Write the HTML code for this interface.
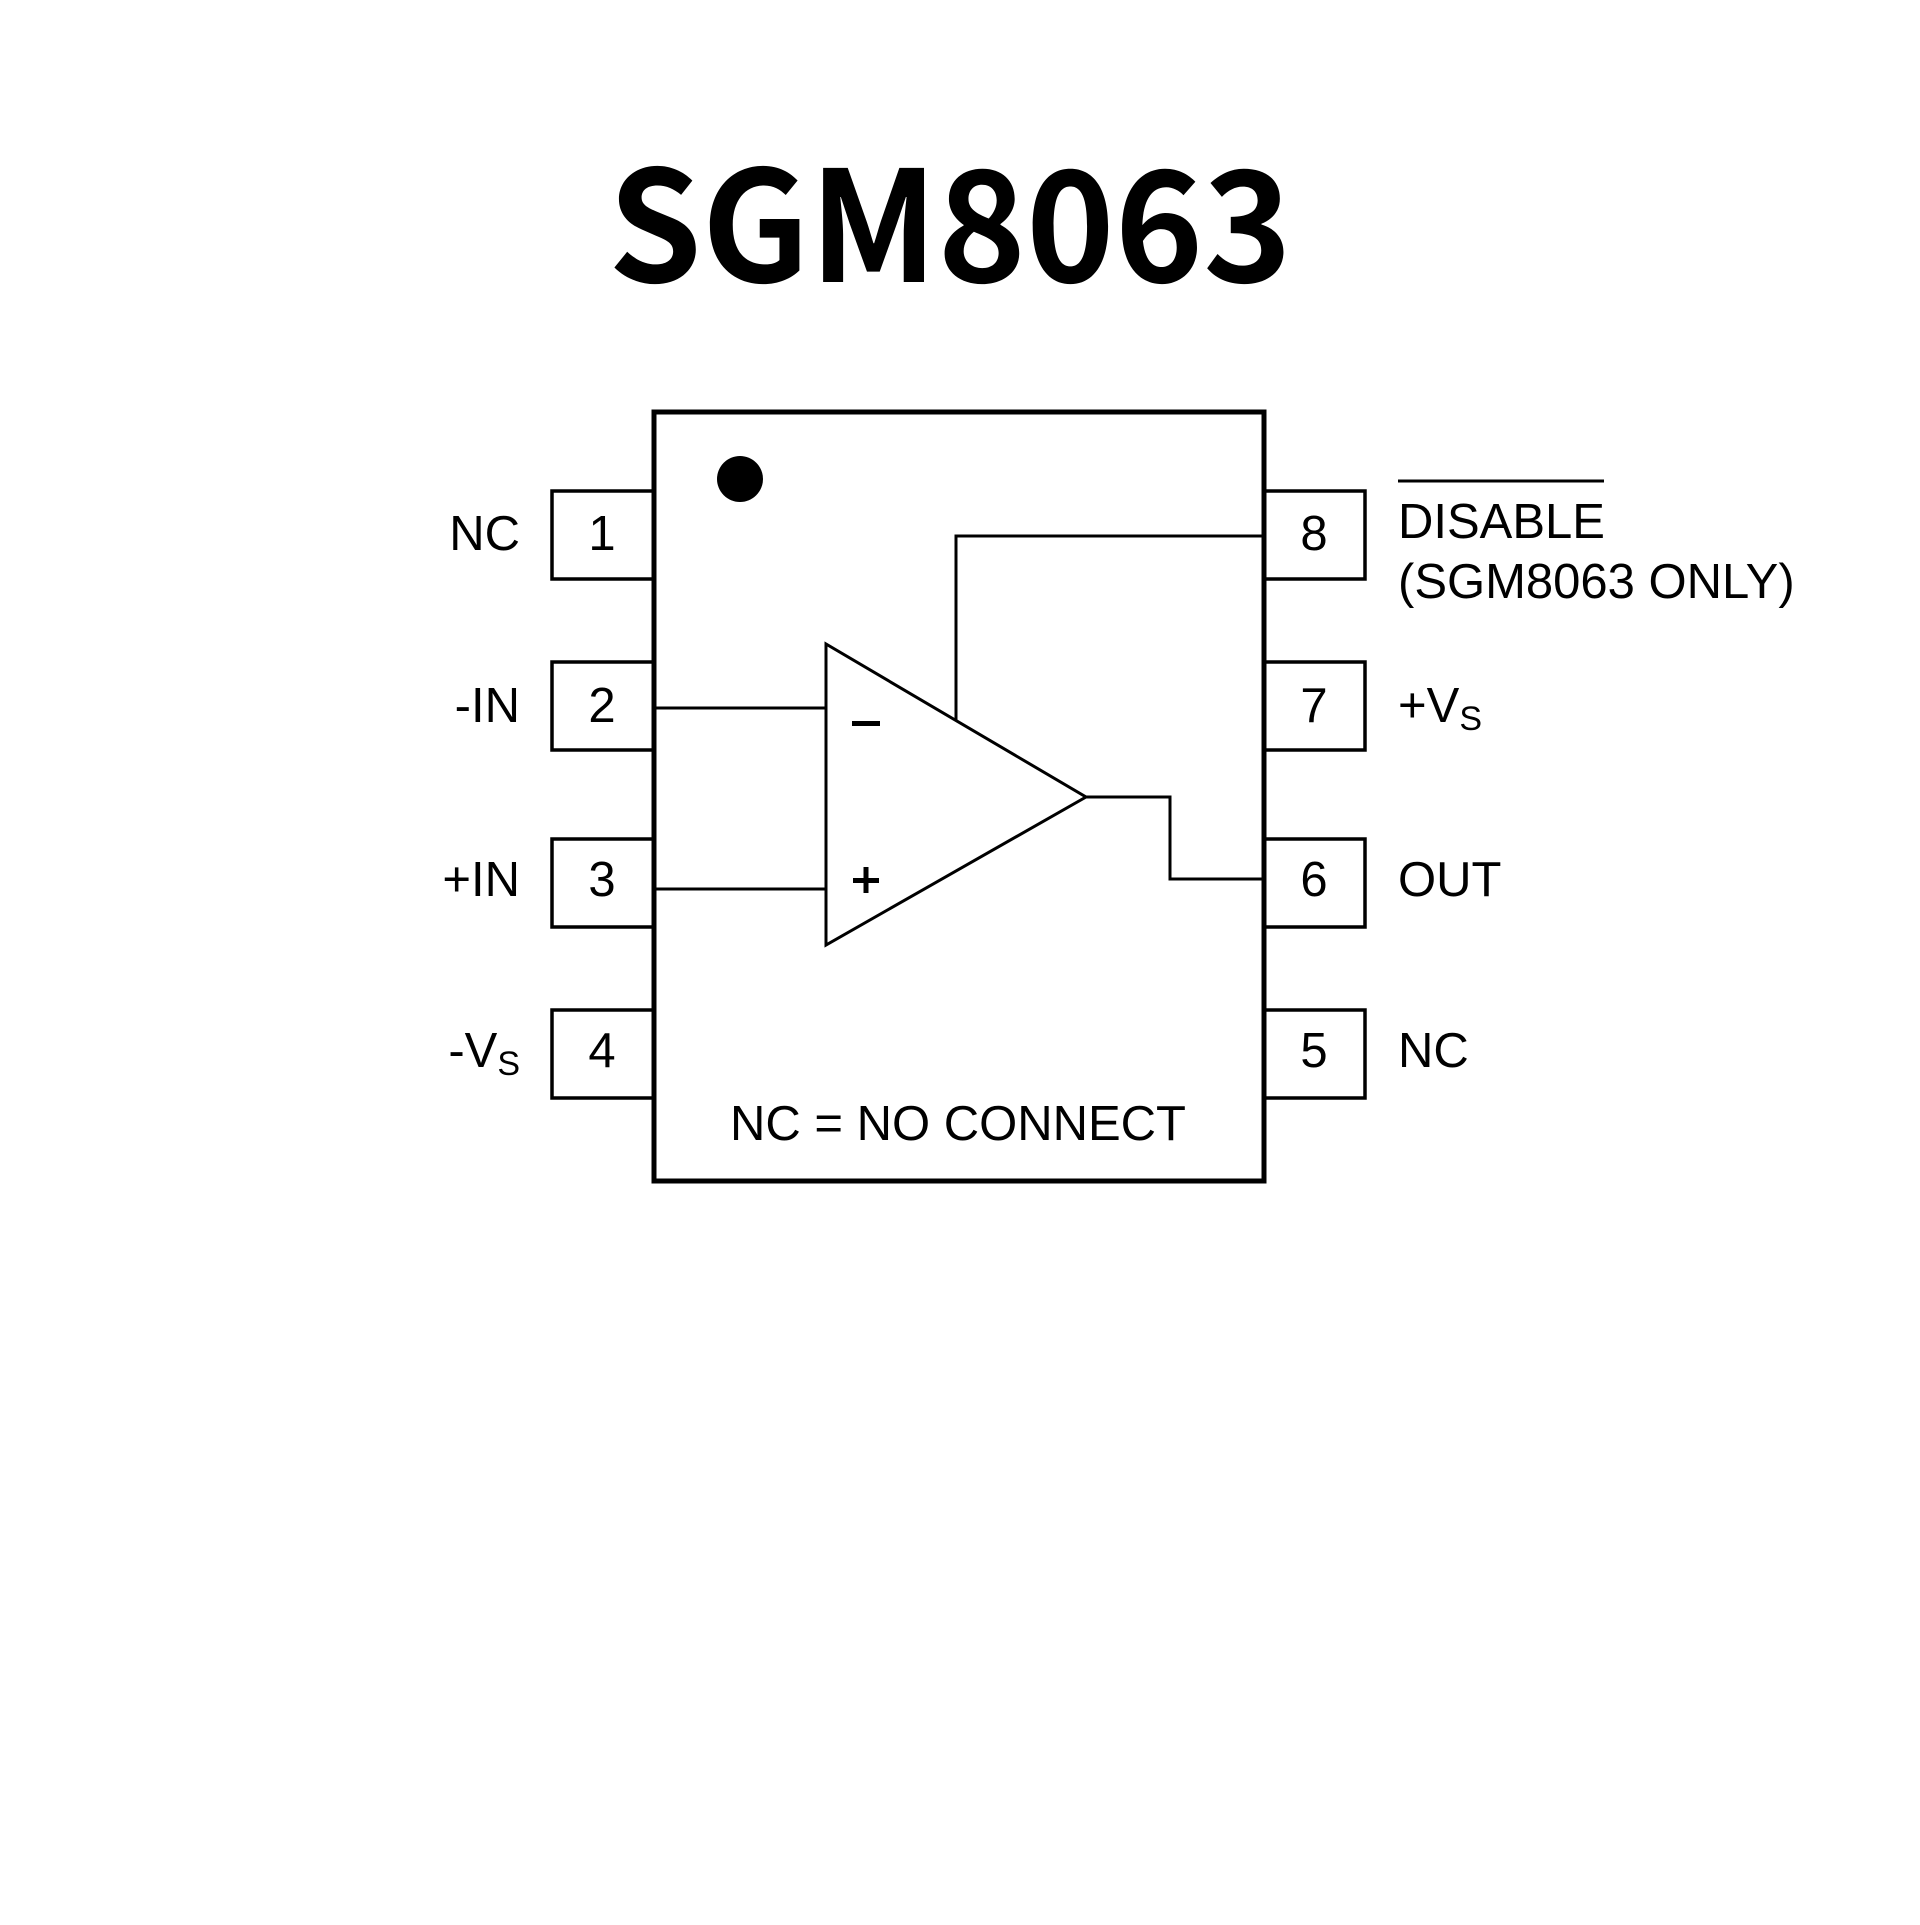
<!DOCTYPE html>
<html><head><meta charset="utf-8"><style>
html,body{margin:0;padding:0;background:#fff;}
</style></head><body>
<svg width="1920" height="1920" viewBox="0 0 1920 1920" xmlns="http://www.w3.org/2000/svg">
<rect width="1920" height="1920" fill="#fff"/>
<text x="950" y="282" text-anchor="middle" font-family="'Noto Sans CJK SC','DejaVu Sans',sans-serif" font-weight="bold" font-size="154" fill="#000" transform="translate(950 0) scale(0.975 1) translate(-950 0)">SGM8063</text>
<g fill="none" stroke="#000" stroke-width="3.5">
<rect x="552" y="491" width="102" height="88"/>
<rect x="552" y="662" width="102" height="88"/>
<rect x="552" y="839" width="102" height="88"/>
<rect x="552" y="1010" width="102" height="88"/>
<rect x="1263" y="491" width="102" height="88"/>
<rect x="1263" y="662" width="102" height="88"/>
<rect x="1263" y="839" width="102" height="88"/>
<rect x="1263" y="1010" width="102" height="88"/>
</g>
<rect x="654" y="412" width="610" height="769" fill="#fff" stroke="#000" stroke-width="5"/>
<circle cx="740" cy="479" r="23" fill="#000"/>
<g fill="none" stroke="#000" stroke-width="3">
<polygon points="826,644 826,945 1086,797"/>
<polyline points="656,708 826,708"/>
<polyline points="656,889 826,889"/>
<polyline points="1086,797 1170,797 1170,879 1262,879"/>
<polyline points="956,720 956,536 1262,536"/>
<line x1="1398" y1="481" x2="1604" y2="481"/>
</g>
<g font-family="'Liberation Sans',Arial,sans-serif" font-size="49" fill="#000">
<text x="520" y="550" text-anchor="end">NC</text>
<text x="520" y="722" text-anchor="end">-IN</text>
<text x="520" y="896" text-anchor="end">+IN</text>
<text x="520" y="1067" text-anchor="end">-V<tspan font-size="34" dy="8">S</tspan></text>
<text x="602" y="550" text-anchor="middle">1</text>
<text x="602" y="722" text-anchor="middle">2</text>
<text x="602" y="896" text-anchor="middle">3</text>
<text x="602" y="1067" text-anchor="middle">4</text>
<text x="1314" y="550" text-anchor="middle">8</text>
<text x="1314" y="722" text-anchor="middle">7</text>
<text x="1314" y="896" text-anchor="middle">6</text>
<text x="1314" y="1067" text-anchor="middle">5</text>
<text x="1398" y="538">DISABLE</text>
<text x="1398" y="598">(SGM8063 ONLY)</text>
<text x="1398" y="722">+V<tspan font-size="34" dy="8">S</tspan></text>
<text x="1398" y="896">OUT</text>
<text x="1398" y="1067">NC</text>
<text x="958" y="1140" text-anchor="middle">NC = NO CONNECT</text>
</g>
<rect x="852" y="721" width="28" height="5" fill="#000"/>
<rect x="853" y="878" width="26" height="5" fill="#000"/>
<rect x="863.5" y="867" width="5" height="26" fill="#000"/>
</svg>
</body></html>
